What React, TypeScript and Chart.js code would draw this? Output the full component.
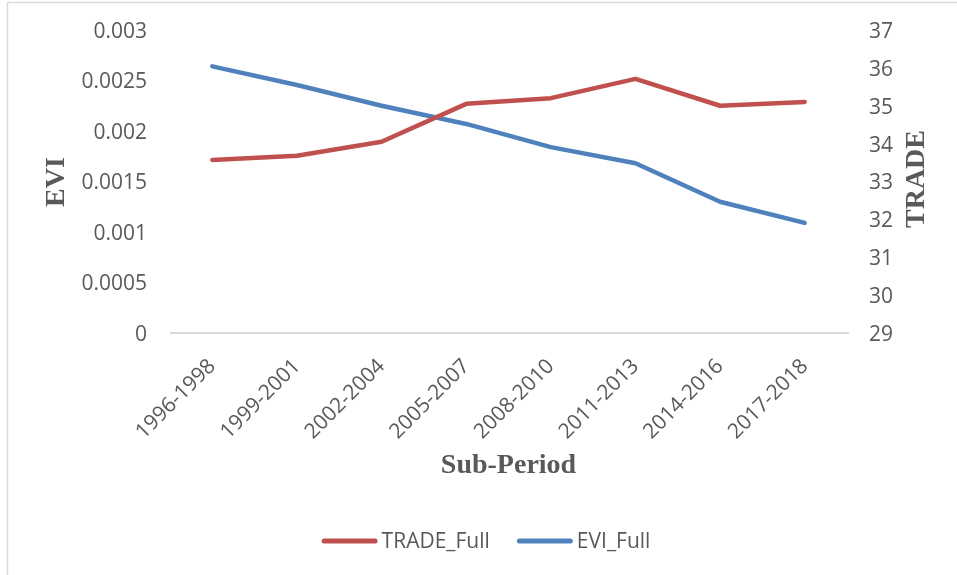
import React, { useEffect, useRef } from "react";
import { Chart, registerables } from "chart.js";

Chart.register(...registerables);

const categories = ["1996-1998", "1999-2001", "2002-2004", "2005-2007", "2008-2010", "2011-2013", "2014-2016", "2017-2018"];
const tradeFull = [33.57, 33.68, 34.05, 35.05, 35.2, 35.71, 35.0, 35.1];
const eviFull = [0.00264, 0.002455, 0.00225, 0.00207, 0.00184, 0.00168, 0.0013, 0.00109];
const eviTicks = { min: 0, max: 0.003, step: 0.0005 };
const tradeTicks = { min: 29, max: 37, step: 1 };

const TEXT = "#595959";
const FONT = "'Open Sans', sans-serif";
const SERIF = "'Liberation Serif', serif";

const decorPlugin = {
  id: "decor",
  beforeDraw(chart: any) {
    const ctx = chart.ctx;
    ctx.save();
    ctx.strokeStyle = "#d9d9d9";
    ctx.lineWidth = 1.5;
    ctx.beginPath();
    ctx.moveTo(7.5, 575);
    ctx.lineTo(7.5, 2.5);
    ctx.lineTo(957, 2.5);
    ctx.stroke();
    const area = chart.chartArea;
    ctx.strokeStyle = "#d9d9d9";
    ctx.lineWidth = 2;
    ctx.beginPath();
    ctx.moveTo(area.left, area.bottom);
    ctx.lineTo(area.right + 2, area.bottom);
    ctx.stroke();
    ctx.restore();
  },
  afterDraw(chart: any) {
    const ctx = chart.ctx;
    const area = chart.chartArea;
    ctx.save();
    ctx.fillStyle = TEXT;
    ctx.font = `bold 28px ${SERIF}`;
    ctx.textAlign = "center";
    ctx.textBaseline = "middle";
    ctx.save();
    ctx.translate(57, 182);
    ctx.rotate(-Math.PI / 2);
    ctx.fillText("EVI", 0, 0);
    ctx.restore();
    ctx.save();
    ctx.translate(917, 179);
    ctx.rotate(-Math.PI / 2);
    ctx.fillText("TRADE", 0, 0);
    ctx.restore();
    ctx.fillText("Sub-Period", (area.left + area.right) / 2, 466);

    // legend
    ctx.font = `21px ${FONT}`;
    ctx.textAlign = "left";
    const items = chart.data.datasets.map((ds: any) => ({ label: ds.label, color: ds.borderColor }));
    const sample = 56;
    const gapText = 4;
    const gapItem = 27;
    const widths = items.map((it: any) => ctx.measureText(it.label).width);
    let total = 0;
    items.forEach((_: any, i: number) => {
      total += sample + gapText + widths[i];
      if (i < items.length - 1) total += gapItem;
    });
    let x = 486 - total / 2;
    const y = 541;
    items.forEach((it: any, i: number) => {
      ctx.strokeStyle = it.color;
      ctx.lineWidth = 5;
      ctx.lineCap = "round";
      ctx.beginPath();
      ctx.moveTo(x + 2.5, y);
      ctx.lineTo(x + sample - 2.5, y);
      ctx.stroke();
      x += sample + gapText;
      ctx.fillStyle = TEXT;
      ctx.fillText(it.label, x, y + 1);
      x += widths[i] + gapItem;
    });
    ctx.restore();
  },
};

export default function App() {
  const ref = useRef<HTMLCanvasElement>(null);
  useEffect(() => {
    if (!ref.current) return;
    const chart = new Chart(ref.current, {
      type: "line",
      data: {
        labels: categories,
        datasets: [
          {
            label: "TRADE_Full",
            data: tradeFull,
            yAxisID: "y1",
            borderColor: "#c0504d",
            backgroundColor: "#c0504d",
            borderWidth: 4.5,
            pointRadius: 0,
            tension: 0,
            borderCapStyle: "round",
            borderJoinStyle: "round",
          },
          {
            label: "EVI_Full",
            data: eviFull,
            yAxisID: "y",
            borderColor: "#4f81bd",
            backgroundColor: "#4f81bd",
            borderWidth: 4.5,
            pointRadius: 0,
            tension: 0,
            borderCapStyle: "round",
            borderJoinStyle: "round",
          },
        ],
      },
      options: {
        animation: false,
        responsive: false,
        maintainAspectRatio: false,
        layout: { padding: { top: 30, bottom: 0, left: 0, right: 0 } },
        plugins: {
          tooltip: { enabled: false },
          legend: { display: false },
        },
        scales: {
          x: {
            offset: true,
            grid: { display: false, drawTicks: false },
            border: { display: false },
            ticks: {
              color: TEXT,
              font: { family: FONT, size: 21 },
              minRotation: 45,
              maxRotation: 45,
              padding: 21,
              autoSkip: false,
            },
            afterFit(scale: any) {
              scale.height = 242;
              scale.paddingLeft = 0;
              scale.paddingRight = 0;
            },
          },
          y: {
            position: "left",
            min: eviTicks.min,
            max: eviTicks.max,
            grid: { display: false, drawTicks: false },
            border: { display: false },
            ticks: {
              stepSize: eviTicks.step,
              color: TEXT,
              font: { family: FONT, size: 21 },
              padding: 23,
              labelOffset: 2,
              callback: (v: any) => String(Number(Number(v).toFixed(4))),
            },
            afterFit(scale: any) {
              scale.width = 170;
              scale.paddingTop = 0;
              scale.paddingBottom = 0;
            },
          },
          y1: {
            position: "right",
            min: tradeTicks.min,
            max: tradeTicks.max,
            grid: { display: false, drawTicks: false },
            border: { display: false },
            ticks: {
              stepSize: tradeTicks.step,
              color: TEXT,
              font: { family: FONT, size: 21 },
              padding: 22,
              labelOffset: 2,
            },
            afterFit(scale: any) {
              scale.width = 110;
              scale.paddingTop = 0;
              scale.paddingBottom = 0;
            },
          },
        },
      },
      plugins: [decorPlugin],
    } as any);
    return () => chart.destroy();
  }, []);
  return (
    <div style={{ position: "absolute", left: 0, top: 0, width: 957, height: 575, background: "#fff" }}>
      <canvas ref={ref} width={957} height={575} style={{ display: "block" }} />
    </div>
  );
}
